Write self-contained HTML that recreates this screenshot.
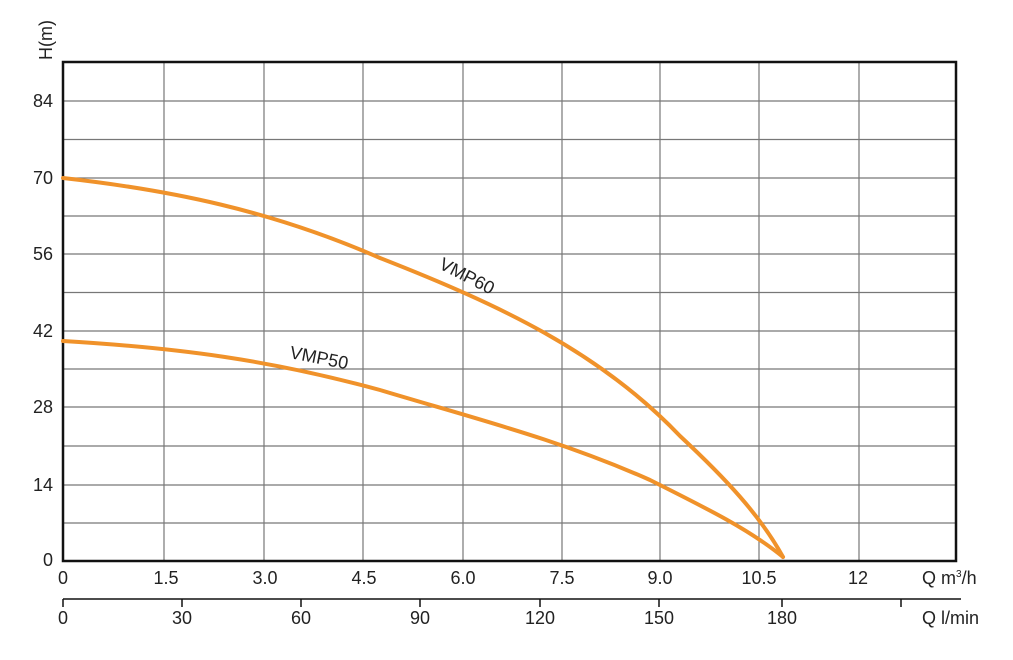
<!DOCTYPE html><html><head><meta charset="utf-8"><style>body{margin:0;background:#fff}svg{display:block}text{font-family:"Liberation Sans",Arial,sans-serif;fill:#222}</style></head><body>
<svg width="1013" height="660" viewBox="0 0 1013 660">
<g stroke="#777" stroke-width="1.2">
<line x1="164" y1="62" x2="164" y2="561"/><line x1="264" y1="62" x2="264" y2="561"/><line x1="363" y1="62" x2="363" y2="561"/><line x1="463" y1="62" x2="463" y2="561"/><line x1="562" y1="62" x2="562" y2="561"/><line x1="660" y1="62" x2="660" y2="561"/><line x1="759" y1="62" x2="759" y2="561"/><line x1="859" y1="62" x2="859" y2="561"/>
<line x1="63" y1="101" x2="956" y2="101"/><line x1="63" y1="139.5" x2="956" y2="139.5"/><line x1="63" y1="178" x2="956" y2="178"/><line x1="63" y1="216" x2="956" y2="216"/><line x1="63" y1="254" x2="956" y2="254"/><line x1="63" y1="292.5" x2="956" y2="292.5"/><line x1="63" y1="331" x2="956" y2="331"/><line x1="63" y1="369" x2="956" y2="369"/><line x1="63" y1="407" x2="956" y2="407"/><line x1="63" y1="446" x2="956" y2="446"/><line x1="63" y1="485" x2="956" y2="485"/><line x1="63" y1="523" x2="956" y2="523"/>
</g>
<rect x="63" y="62" width="893" height="499" fill="none" stroke="#111" stroke-width="2.5"/>
<g fill="none" stroke="#f0922a" stroke-width="4" stroke-linecap="round" stroke-linejoin="round">
<path d="M63,178 C170,190 270,210 380,258 C500,305 600,352 680,436 C725,478 760,515 783,557"/>
<path d="M63,341 C180,348 270,360 380,390 C480,420 560,440 650,480 C710,510 750,530 783,557"/>
</g>
<text x="438" y="268" font-size="18" transform="rotate(27 438 268)">VMP60</text>
<text x="289" y="358" font-size="18" transform="rotate(11 289 358)">VMP50</text>
<g font-size="18" text-anchor="end">
<text x="53" y="107">84</text><text x="53" y="184">70</text><text x="53" y="260">56</text><text x="53" y="337">42</text><text x="53" y="413">28</text><text x="53" y="491">14</text><text x="53" y="566">0</text>
</g>
<text x="52" y="60" font-size="18" transform="rotate(-90 52 60)">H(m)</text>
<g font-size="18" text-anchor="middle">
<text x="63" y="584">0</text><text x="166" y="584">1.5</text><text x="265" y="584">3.0</text><text x="364" y="584">4.5</text><text x="463" y="584">6.0</text><text x="562" y="584">7.5</text><text x="660" y="584">9.0</text><text x="759" y="584">10.5</text><text x="858" y="584">12</text>
</g>
<text x="922" y="584" font-size="18">Q m<tspan font-size="10" dy="-7">3</tspan><tspan dy="7">/h</tspan></text>
<line x1="63" y1="599" x2="961" y2="599" stroke="#111" stroke-width="1.5"/>
<g stroke="#111" stroke-width="1.5"><line x1="63" y1="599" x2="63" y2="607"/><line x1="182" y1="599" x2="182" y2="607"/><line x1="301" y1="599" x2="301" y2="607"/><line x1="420" y1="599" x2="420" y2="607"/><line x1="540" y1="599" x2="540" y2="607"/><line x1="659" y1="599" x2="659" y2="607"/><line x1="782" y1="599" x2="782" y2="607"/><line x1="901" y1="599" x2="901" y2="607"/></g>
<g font-size="18" text-anchor="middle">
<text x="63" y="624">0</text><text x="182" y="624">30</text><text x="301" y="624">60</text><text x="420" y="624">90</text><text x="540" y="624">120</text><text x="659" y="624">150</text><text x="782" y="624">180</text>
</g>
<text x="922" y="624" font-size="18">Q l/min</text>
</svg></body></html>
